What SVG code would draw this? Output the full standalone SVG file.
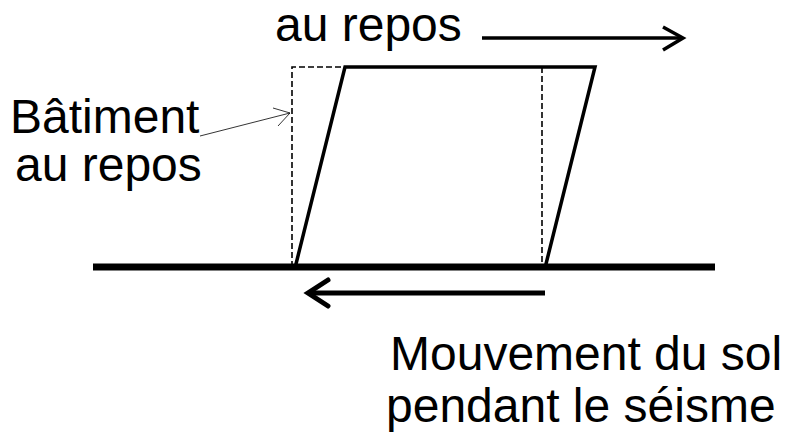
<svg xmlns="http://www.w3.org/2000/svg" width="786" height="435" viewBox="0 0 786 435">
<style>
text{font-family:"Liberation Sans",Arial,sans-serif;fill:#000;font-size:48px}
.thick{fill:none;stroke:#000;stroke-width:3.5;stroke-linejoin:miter}
</style>
<rect width="786" height="435" fill="#fff"/>
<g id="ground">
<line x1="93" y1="267" x2="715" y2="267" stroke="#000" stroke-width="7"/>
</g>
<g id="building-rest">
<polyline points="292,267 292,67 345,67" fill="none" stroke="#000" stroke-width="1.6" stroke-dasharray="6,3"/>
<line x1="542" y1="67" x2="542" y2="267" stroke="#000" stroke-width="1.6" stroke-dasharray="6,3"/>
</g>
<g id="building-moved">
<polygon class="thick" points="345,67 595,67 545,268 295,268"/>
</g>
<g id="connectors">
<line x1="482" y1="38" x2="682" y2="38" stroke="#000" stroke-width="3.5"/>
<polyline points="663,27 683,38 663,50" class="thick"/>
<line x1="308" y1="293" x2="545" y2="293" stroke="#000" stroke-width="5"/>
<polyline points="328,280 308,293 328,306" fill="none" stroke="#000" stroke-width="5" stroke-linecap="round" stroke-linejoin="miter"/>
<line x1="200" y1="136" x2="290" y2="113" stroke="#000" stroke-width="0.8"/>
<polyline points="273,108 290,113 278,126" fill="none" stroke="#000" stroke-width="0.8"/>
</g>
<g id="labels">
<text x="275" y="41" font-size="47">au repos</text>
<text x="10" y="133">Bâtiment</text>
<text x="15" y="181">au repos</text>
<text x="390" y="370" font-size="45">Mouvement du sol</text>
<text x="386" y="422" font-size="45">pendant le séisme</text>
</g>
</svg>
